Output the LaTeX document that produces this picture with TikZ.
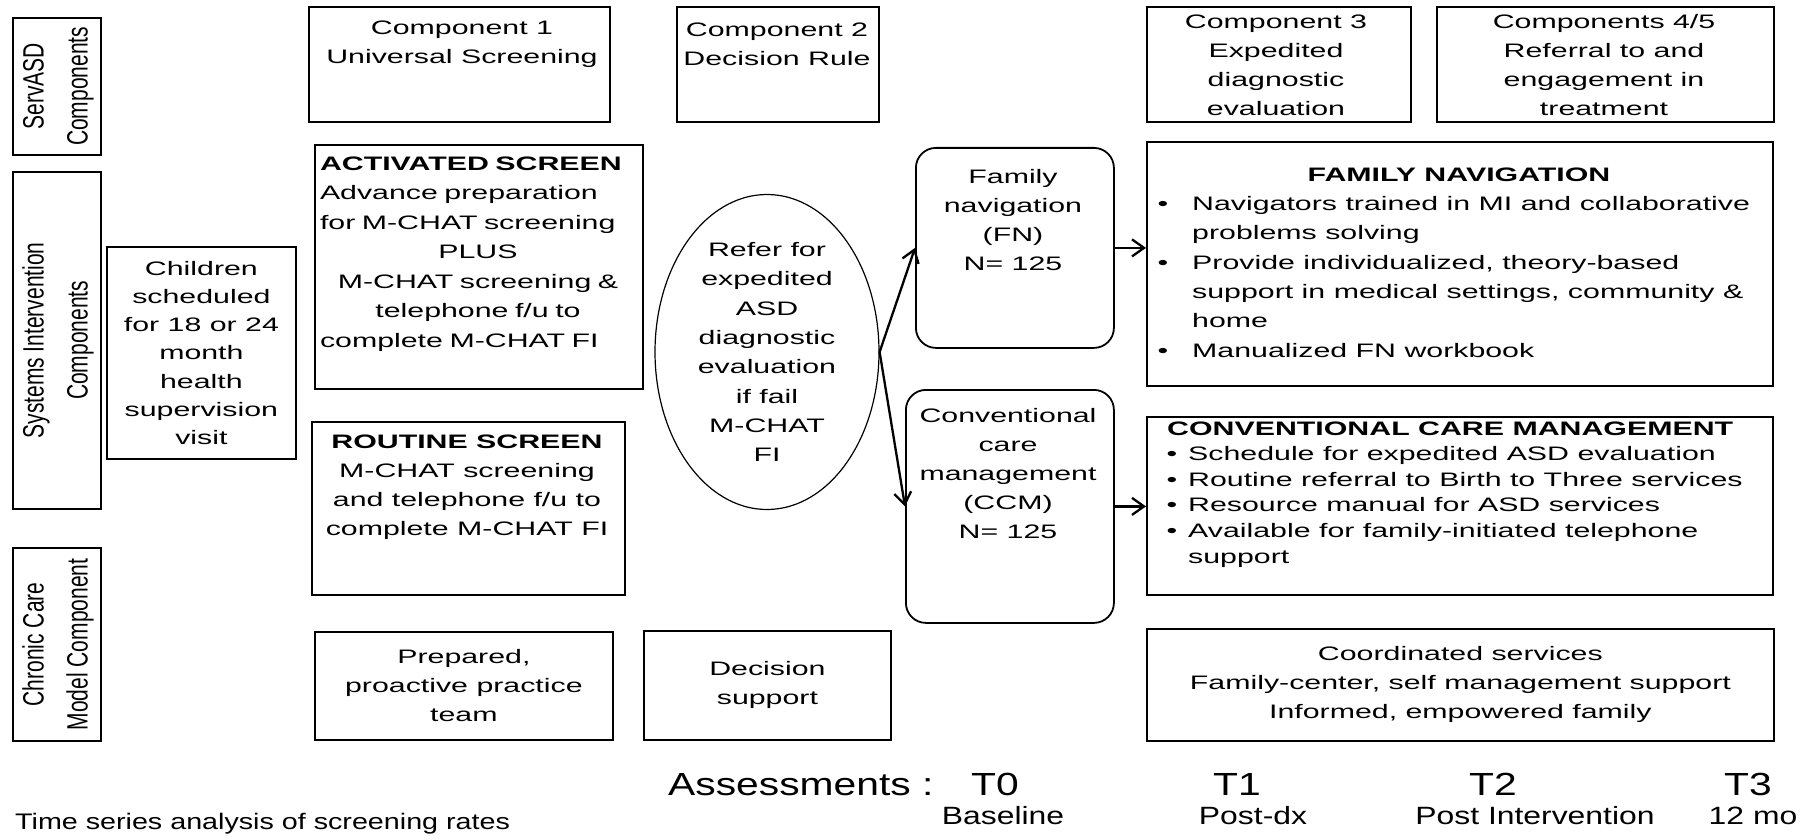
\documentclass[tikz,border=0pt]{standalone}
\usepackage{fontspec}
\setmainfont{Liberation Sans}
\newfontfamily\boxfont[FakeStretch=1.555]{Liberation Sans}
\newfontfamily\narrowfont[FakeStretch=1.275]{Liberation Sans}
\usetikzlibrary{shapes,arrows.meta,positioning}

\newcommand{\sidetext}[1]{\rotatebox{90}{\scalebox{1}[1.4]{\begin{tabular}{@{}c@{}}#1\end{tabular}}}}

\begin{document}
\begin{tikzpicture}[x=1pt,y=-1pt,
  every node/.style={inner sep=0pt},
  box/.style={draw,line width=1.8pt,anchor=north west,align=center,
    font=\boxfont\fontsize{19.5}{29}\selectfont},
  navbox/.style={box,rounded corners=20pt},
  txt/.style={align=center,font=\boxfont\fontsize{19.5}{29}\selectfont},
  sidebox/.style={draw,line width=1.8pt,anchor=north west,
    font=\fontsize{21}{31.4}\selectfont},
  timetxt/.style={font=\narrowfont\fontsize{32}{36}\selectfont,anchor=base},
  subtxt/.style={font=\narrowfont\fontsize{25}{28}\selectfont,anchor=base},
  arr/.style={-{Straight Barb[length=12pt,width=17pt]},line width=2.3pt}
  ]
  \useasboundingbox (0,0) rectangle (1812,840);

  % the row labels
  \node[sidebox,minimum width=69pt,minimum height=137pt] (srv) at (12,17) {\sidetext{ServASD\\Components}};
  \node[sidebox,minimum width=69pt,minimum height=337pt] (sys) at (12,171) {\sidetext{Systems Intervention\\Components}};
  \node[sidebox,minimum width=69pt,minimum height=193pt] (ccmod) at (12,547) {\sidetext{Chronic Care\\Model Component}};

  % the ServASD components
  \node[box,minimum width=301pt,minimum height=115pt] (comp1) at (308,6) {};
  \node[txt] (comp1t) at (462,44) {Component 1\\Universal Screening};
  \node[box,minimum width=202pt,minimum height=115pt] (comp2) at (676,6) {};
  \node[txt] (comp2t) at (777,44) {Component 2\\Decision Rule};
  \node[box,minimum width=264pt,minimum height=115pt] (comp3) at (1146,6) {};
  \node[txt] (comp3t) at (1276,65) {Component 3\\Expedited\\diagnostic\\evaluation};
  \node[box,minimum width=337pt,minimum height=115pt] (comp45) at (1436,6) {};
  \node[txt] (comp45t) at (1604,65) {Components 4/5\\Referral to and\\engagement in\\treatment};

  % the intervention
  \node[box,minimum width=189pt,minimum height=212pt,font=\boxfont\fontsize{19.5}{28.2}\selectfont] (child) at (106,246)
    {Children\\scheduled\\for 18 or 24\\month\\health\\supervision\\visit};
  \node[box,minimum width=328pt,minimum height=244pt] (act) at (314,144) {};
  \node[txt,align=left,text width=316pt,font=\boxfont\fontsize{19.5}{29.5}\selectfont] (actt) at (478,254)
    {\textbf{ACTIVATED SCREEN}\\Advance preparation\\for M-CHAT screening\par\centering PLUS\\M-CHAT screening \&\\telephone f/u to\\complete M-CHAT FI};
  \node[box,minimum width=313pt,minimum height=173pt] (rout) at (311,421) {};
  \node[txt] (routt) at (467,487) {\textbf{ROUTINE SCREEN}\\M-CHAT screening\\and telephone f/u to\\complete M-CHAT FI};
  \node[draw,ellipse,line width=1.2pt,minimum width=224pt,minimum height=315pt,
    align=center,font=\boxfont\fontsize{19.5}{29.3}\selectfont] (refer) at (767,352)
    {Refer for\\expedited\\ASD\\diagnostic\\evaluation\\if fail\\M-CHAT\\FI};
  \node[navbox,minimum width=198pt,minimum height=200pt] (fn) at (915,147) {};
  \node[txt] (fnt) at (1013,220) {Family\\navigation\\(FN)\\N= 125};
  \node[navbox,minimum width=208pt,minimum height=233pt] (ccm) at (905,389) {};
  \node[txt] (ccmt) at (1008,474) {Conventional\\care\\management\\(CCM)\\N= 125};

  % the two arms
  \node[box,minimum width=626pt,minimum height=244pt] (fnbox) at (1146,141) {};
  \node[txt,anchor=base] (fnhead) at (1459,182) {\textbf{FAMILY NAVIGATION}};
  \node[txt,align=left,anchor=north west,font=\boxfont\fontsize{19.5}{29.4}\selectfont] (fnlist) at (1192,196)
    {\llap{\textbullet\hspace{24pt}}Navigators trained in MI and collaborative\\problems solving\\
     \llap{\textbullet\hspace{24pt}}Provide individualized, theory-based\\support in medical settings, community \&\\home\\
     \llap{\textbullet\hspace{24pt}}Manualized FN workbook};
  \node[box,minimum width=626pt,minimum height=178pt] (ccmbox) at (1146,416) {};
  \node[txt,anchor=base west] (ccmhead) at (1167,435) {\textbf{CONVENTIONAL CARE MANAGEMENT}};
  \node[txt,align=left,anchor=north west,font=\boxfont\fontsize{19.5}{25.7}\selectfont] (ccmlist) at (1188,446)
    {\llap{\textbullet\hspace{11pt}}Schedule for expedited ASD evaluation\\
     \llap{\textbullet\hspace{11pt}}Routine referral to Birth to Three services\\
     \llap{\textbullet\hspace{11pt}}Resource manual for ASD services\\
     \llap{\textbullet\hspace{11pt}}Available for family-initiated telephone\\support};

  % the chronic care model
  \node[box,minimum width=298pt,minimum height=108pt] (prep) at (314,631) {Prepared,\\proactive practice\\team};
  \node[box,minimum width=247pt,minimum height=109pt] (dsup) at (643,630) {Decision\\support};
  \node[box,minimum width=627pt,minimum height=112pt] (coord) at (1146,628)
    {Coordinated services\\Family-center, self management support\\Informed, empowered family};

  % the arrows
  \draw[arr] (refer.east) -- (fn.west);
  \draw[arr] (refer.east) -- (ccm.west);
  \draw[arr] (fn.east) -- (fn.east -| fnbox.west);
  \draw[arr] (ccm.east) -- (ccm.east -| ccmbox.west);

  % the assessments
  \node[timetxt,anchor=base west] (assess) at (668,795) {Assessments :};
  \node[timetxt] (t0) at (995,795) {T0};
  \node[timetxt] (t1) at (1237,795) {T1};
  \node[timetxt] (t2) at (1493,795) {T2};
  \node[timetxt] (t3) at (1748,795) {T3};
  \node[subtxt] (s0) at (1003,824) {Baseline};
  \node[subtxt] (s1) at (1253,824) {Post-dx};
  \node[subtxt] (s2) at (1535,824) {Post Intervention};
  \node[subtxt] (s3) at (1753,824) {12 mo};
  \node[font=\narrowfont\fontsize{22.5}{26}\selectfont,anchor=base west] (tsa) at (15,829) {Time series analysis of screening rates};
\end{tikzpicture}
\end{document}
